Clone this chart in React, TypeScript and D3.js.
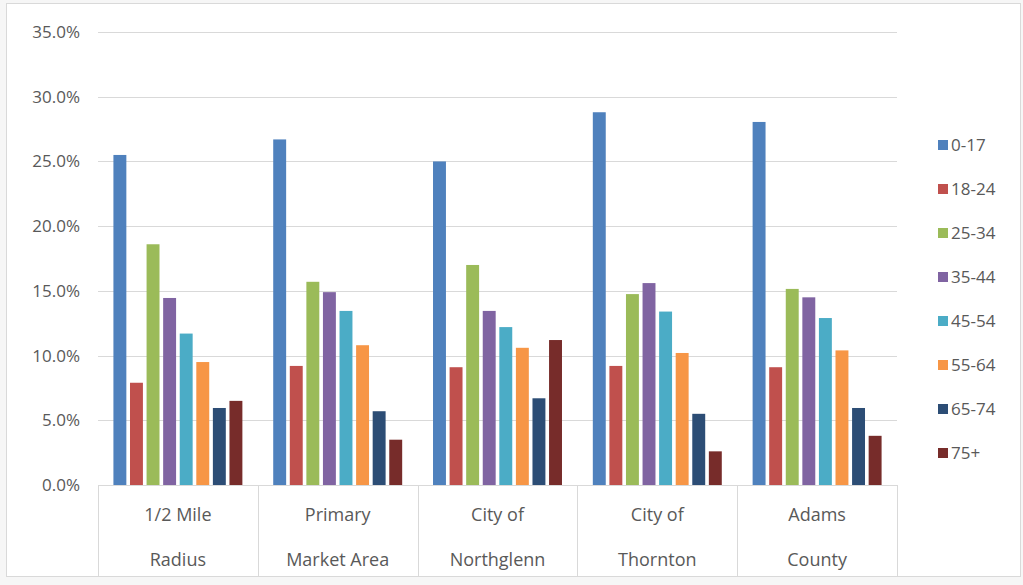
import React, { useEffect, useRef } from 'react';
import * as d3 from 'd3';

const categories = [
  ['1/2 Mile', 'Radius'],
  ['Primary', 'Market Area'],
  ['City of', 'Northglenn'],
  ['City of', 'Thornton'],
  ['Adams', 'County']
];
const ageGroups = ['0-17', '18-24', '25-34', '35-44', '45-54', '55-64', '65-74', '75+'];
const groupColors = ['#4F81BD', '#C0504D', '#9BBB59', '#8064A2', '#4BACC6', '#F79646', '#2C4D75', '#772C2A'];

// share of population (%) per age group, one row per area
const halfMile = [25.5, 7.9, 18.6, 14.45, 11.7, 9.5, 5.95, 6.5];
const primaryMarket = [26.7, 9.2, 15.7, 14.9, 13.45, 10.8, 5.7, 3.5];
const northglenn = [25.0, 9.1, 17.0, 13.45, 12.2, 10.6, 6.7, 11.2];
const thornton = [28.8, 9.2, 14.75, 15.6, 13.4, 10.2, 5.5, 2.6];
const adams = [28.05, 9.1, 15.15, 14.5, 12.9, 10.4, 5.95, 3.8];
const seriesByArea = [halfMile, primaryMarket, northglenn, thornton, adams];

const yTicks = [0, 5, 10, 15, 20, 25, 30, 35];

const FONT = '"Open Sans", Lato, sans-serif';
const TEXT = '#595959';

export default function App() {
  const svgRef = useRef<SVGSVGElement>(null);

  useEffect(() => {
    if (!svgRef.current) return;
    const svg = d3.select(svgRef.current);
    svg.selectAll('*').remove();

    const width = 1023;
    const height = 585;
    const plot = { left: 98, right: 897, top: 32, bottom: 485 };

    svg.append('rect').attr('width', width).attr('height', height).attr('fill', '#f6f6f6');
    svg.append('rect')
      .attr('x', 6.5).attr('y', 3.5)
      .attr('width', 1014).attr('height', 573)
      .attr('fill', '#fff')
      .attr('stroke', '#d9d9d9');

    const x0 = d3.scaleBand<number>()
      .domain(d3.range(categories.length))
      .range([plot.left, plot.right]);

    const x1 = d3.scaleBand<number>()
      .domain(d3.range(ageGroups.length))
      .range([0, x0.bandwidth()])
      .paddingInner(0.22)
      .paddingOuter(0.93);

    const y = d3.scaleLinear().domain([0, 35]).range([plot.bottom, plot.top]);

    // gridlines + tick labels
    const grid = svg.append('g');
    yTicks.forEach(t => {
      grid.append('line')
        .attr('x1', plot.left).attr('x2', plot.right)
        .attr('y1', Math.round(y(t)) + 0.5).attr('y2', Math.round(y(t)) + 0.5)
        .attr('stroke', '#d9d9d9');
      grid.append('text')
        .attr('x', 80).attr('y', y(t))
        .attr('dy', '0.35em')
        .attr('text-anchor', 'end')
        .attr('font-family', FONT).attr('font-size', 17)
        .attr('fill', TEXT)
        .text(`${t.toFixed(1)}%`);
    });

    // bars
    seriesByArea.forEach((vals, ci) => {
      const g = svg.append('g').attr('transform', `translate(${x0(ci)},0)`);
      vals.forEach((v, si) => {
        g.append('rect')
          .attr('x', x1(si)!)
          .attr('y', y(v))
          .attr('width', x1.bandwidth())
          .attr('height', y(0) - y(v))
          .attr('fill', groupColors[si]);
      });
    });

    // category axis boxes
    const axisBottom = 576;
    d3.range(categories.length + 1).forEach(i => {
      const xx = i < categories.length ? x0(i)! : plot.right;
      svg.append('line')
        .attr('x1', Math.round(xx) + 0.5).attr('x2', Math.round(xx) + 0.5)
        .attr('y1', plot.bottom).attr('y2', axisBottom)
        .attr('stroke', '#d9d9d9');
    });
    categories.forEach((lines, ci) => {
      const cx = x0(ci)! + x0.bandwidth() / 2;
      lines.forEach((ln, li) => {
        svg.append('text')
          .attr('x', cx).attr('y', 515 + li * 45)
          .attr('dy', '0.35em')
          .attr('text-anchor', 'middle')
          .attr('font-family', FONT).attr('font-size', 18)
          .attr('fill', TEXT)
          .text(ln);
      });
    });

    // legend
    const legend = svg.append('g').attr('transform', 'translate(938,145)');
    ageGroups.forEach((name, i) => {
      const row = legend.append('g').attr('transform', `translate(0,${i * 44})`);
      row.append('rect')
        .attr('x', 0).attr('y', -5)
        .attr('width', 10).attr('height', 10)
        .attr('fill', groupColors[i]);
      row.append('text')
        .attr('x', 13).attr('y', 0)
        .attr('dy', '0.35em')
        .attr('font-family', FONT).attr('font-size', 17)
        .attr('fill', TEXT)
        .text(name);
    });
  }, []);

  return (
    <svg
      ref={svgRef}
      width={1023}
      height={585}
      style={{ position: 'absolute', left: 0, top: 0, display: 'block' }}
    />
  );
}
